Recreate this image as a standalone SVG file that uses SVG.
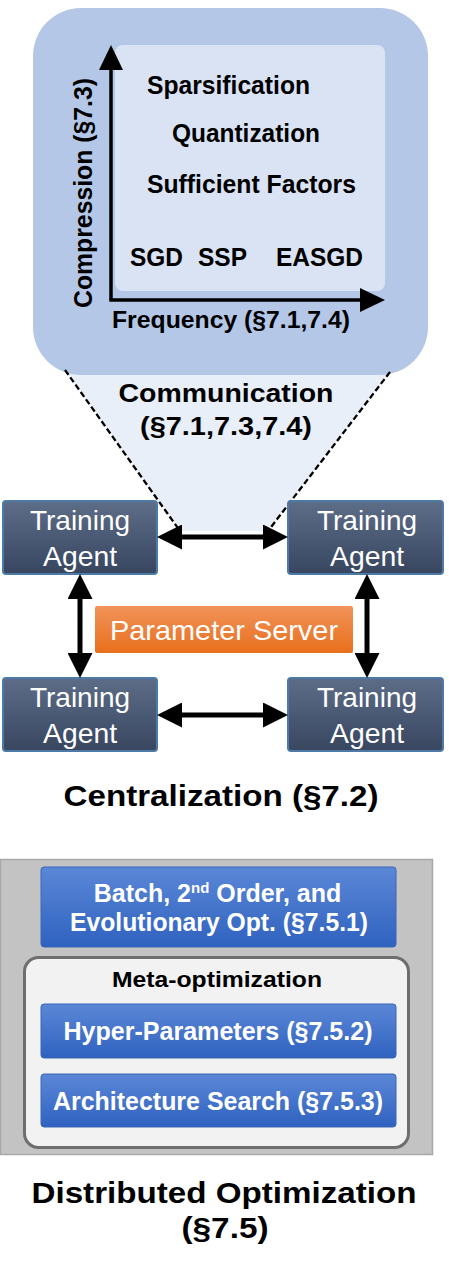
<svg xmlns="http://www.w3.org/2000/svg" width="449" height="1263" viewBox="0 0 449 1263">
<style>
.t{font-family:"Liberation Sans",Arial,sans-serif;}
.b{font-weight:bold;}
.blk{fill:#000;}
.wh{fill:#fff;}
.agent rect{fill:url(#gAgent);stroke:#4d7aa6;stroke-width:2;}
.blue{fill:url(#gBlue);stroke:#3a66b8;stroke-width:1;}
.arr{stroke:#000;stroke-width:5;fill:none;marker-start:url(#ah);marker-end:url(#ah);}
.dash{stroke:#000;stroke-width:2.3;stroke-dasharray:6,3;fill:none;}
</style>
<defs>
<linearGradient id="gAgent" x1="0" y1="0" x2="0" y2="1">
<stop offset="0" stop-color="#5d6d88"/>
<stop offset="1" stop-color="#384660"/>
</linearGradient>
<linearGradient id="gOrange" x1="0" y1="0" x2="0" y2="1">
<stop offset="0" stop-color="#f1935a"/>
<stop offset="1" stop-color="#e86f1c"/>
</linearGradient>
<linearGradient id="gBlue" x1="0" y1="0" x2="0" y2="1">
<stop offset="0" stop-color="#5b87d6"/>
<stop offset="1" stop-color="#2f62c0"/>
</linearGradient>
<marker id="ah" markerUnits="userSpaceOnUse" viewBox="0 0 25 25" markerWidth="25" markerHeight="25" refX="15" refY="12.5" orient="auto-start-reverse">
<path d="M0,0 L25,12.5 L0,25 z" fill="#000"/>
</marker>
<marker id="ax" markerUnits="userSpaceOnUse" viewBox="0 0 25 24" markerWidth="25" markerHeight="24" refX="15" refY="12" orient="auto">
<path d="M0,0 L25,12 L0,24 z" fill="#000"/>
</marker>
</defs>

<g id="communication">
<polygon points="65,370 390,372 268,531 180,531" fill="#e9eff8"/>
<rect x="33" y="8" width="395" height="367" rx="48" fill="#b4c7e7"/>
<rect x="115" y="45" width="270" height="246" rx="8" fill="#dae3f3"/>
<line class="dash" x1="65" y1="370" x2="180" y2="531"/>
<line class="dash" x1="390" y1="372" x2="268" y2="531"/>
<path d="M111,300 L111,55" stroke="#000" stroke-width="3.5" fill="none" marker-end="url(#ax)"/>
<path d="M109.3,300 L375,300" stroke="#000" stroke-width="3.5" fill="none" marker-end="url(#ax)"/>
<text class="t b blk" font-size="25" x="228.5" y="94" text-anchor="middle" textLength="163" lengthAdjust="spacingAndGlyphs">Sparsification</text>
<text class="t b blk" font-size="25" x="246" y="142" text-anchor="middle" textLength="148" lengthAdjust="spacingAndGlyphs">Quantization</text>
<text class="t b blk" font-size="25" x="251.5" y="193" text-anchor="middle" textLength="209" lengthAdjust="spacingAndGlyphs">Sufficient Factors</text>
<text class="t b blk" font-size="25" x="156.5" y="265.5" text-anchor="middle" textLength="53" lengthAdjust="spacingAndGlyphs">SGD</text>
<text class="t b blk" font-size="25" x="222.5" y="265.5" text-anchor="middle" textLength="49" lengthAdjust="spacingAndGlyphs">SSP</text>
<text class="t b blk" font-size="25" x="319.5" y="265.5" text-anchor="middle" textLength="87" lengthAdjust="spacingAndGlyphs">EASGD</text>
<text class="t b blk" font-size="23.5" x="231" y="328" text-anchor="middle" textLength="238" lengthAdjust="spacingAndGlyphs">Frequency (§7.1,7.4)</text>
<text class="t b blk" font-size="25" transform="translate(92,193) rotate(-90)" x="0" y="0" text-anchor="middle" textLength="230" lengthAdjust="spacingAndGlyphs">Compression (§7.3)</text>
<text class="t b blk" font-size="26" x="226" y="402" text-anchor="middle" textLength="215" lengthAdjust="spacingAndGlyphs">Communication</text>
<text class="t b blk" font-size="26" x="226" y="435" text-anchor="middle" textLength="172" lengthAdjust="spacingAndGlyphs">(§7.1,7.3,7.4)</text>
</g>

<g id="agent-tl" class="agent">
<rect x="3" y="501" width="154" height="73" rx="3"/>
<text class="t wh" font-size="28" x="80" y="530" text-anchor="middle" textLength="100" lengthAdjust="spacingAndGlyphs">Training</text>
<text class="t wh" font-size="28" x="80" y="566" text-anchor="middle" textLength="74" lengthAdjust="spacingAndGlyphs">Agent</text>
</g>
<g id="agent-tr" class="agent">
<rect x="288" y="501" width="155" height="73" rx="3"/>
<text class="t wh" font-size="28" x="367" y="530" text-anchor="middle" textLength="100" lengthAdjust="spacingAndGlyphs">Training</text>
<text class="t wh" font-size="28" x="367" y="566" text-anchor="middle" textLength="74" lengthAdjust="spacingAndGlyphs">Agent</text>
</g>
<g id="agent-bl" class="agent">
<rect x="3" y="678" width="154" height="73" rx="3"/>
<text class="t wh" font-size="28" x="80" y="707" text-anchor="middle" textLength="100" lengthAdjust="spacingAndGlyphs">Training</text>
<text class="t wh" font-size="28" x="80" y="743" text-anchor="middle" textLength="74" lengthAdjust="spacingAndGlyphs">Agent</text>
</g>
<g id="agent-br" class="agent">
<rect x="288" y="678" width="155" height="73" rx="3"/>
<text class="t wh" font-size="28" x="367" y="707" text-anchor="middle" textLength="100" lengthAdjust="spacingAndGlyphs">Training</text>
<text class="t wh" font-size="28" x="367" y="743" text-anchor="middle" textLength="74" lengthAdjust="spacingAndGlyphs">Agent</text>
</g>
<g id="parameter-server">
<rect x="95" y="606" width="258" height="47" rx="2" fill="url(#gOrange)"/>
<text class="t wh" font-size="28" x="224" y="640" text-anchor="middle" textLength="228" lengthAdjust="spacingAndGlyphs">Parameter Server</text>
</g>

<g id="connectors">
<line class="arr" x1="167" y1="537" x2="278" y2="537"/>
<line class="arr" x1="167" y1="715" x2="278" y2="715"/>
<line class="arr" x1="80" y1="584" x2="80" y2="668"/>
<line class="arr" x1="367" y1="584" x2="367" y2="668"/>
</g>

<g id="centralization-label">
<text class="t b blk" font-size="30" x="221" y="806" text-anchor="middle" textLength="315" lengthAdjust="spacingAndGlyphs">Centralization (§7.2)</text>
</g>

<g id="distributed-optimization">
<rect x="0.5" y="859.5" width="432" height="295" fill="#c3c3c3" stroke="#a8a8a8" stroke-width="1.5"/>
</g>
<g id="batch">
<rect class="blue" x="41" y="867" width="355" height="80" rx="3"/>
<text class="t b wh" font-size="25" x="217.5" y="902" text-anchor="middle">Batch, 2<tspan font-size="15" dy="-9">nd</tspan><tspan dy="9"> Order, and</tspan></text>
<text class="t b wh" font-size="25" x="219" y="931" text-anchor="middle" textLength="298" lengthAdjust="spacingAndGlyphs">Evolutionary Opt. (§7.5.1)</text>
</g>
<g id="meta-optimization">
<rect x="24.5" y="957.5" width="384" height="190" rx="14" fill="#f2f2f2" stroke="#6e6e6e" stroke-width="3"/>
<text class="t b blk" font-size="22" x="217" y="987" text-anchor="middle" textLength="210" lengthAdjust="spacingAndGlyphs">Meta-optimization</text>
</g>
<g id="hyper-parameters">
<rect class="blue" x="41" y="1004" width="355" height="54" rx="3"/>
<text class="t b wh" font-size="25" x="218" y="1040" text-anchor="middle" textLength="309" lengthAdjust="spacingAndGlyphs">Hyper-Parameters (§7.5.2)</text>
</g>
<g id="architecture-search">
<rect class="blue" x="41" y="1074" width="355" height="53" rx="3"/>
<text class="t b wh" font-size="25" x="218" y="1110" text-anchor="middle" textLength="330" lengthAdjust="spacingAndGlyphs">Architecture Search (§7.5.3)</text>
</g>
<g id="distributed-label">
<text class="t b blk" font-size="30" x="224" y="1203" text-anchor="middle" textLength="385" lengthAdjust="spacingAndGlyphs">Distributed Optimization</text>
<text class="t b blk" font-size="30" x="225" y="1238" text-anchor="middle" textLength="87" lengthAdjust="spacingAndGlyphs">(§7.5)</text>
</g>
</svg>
